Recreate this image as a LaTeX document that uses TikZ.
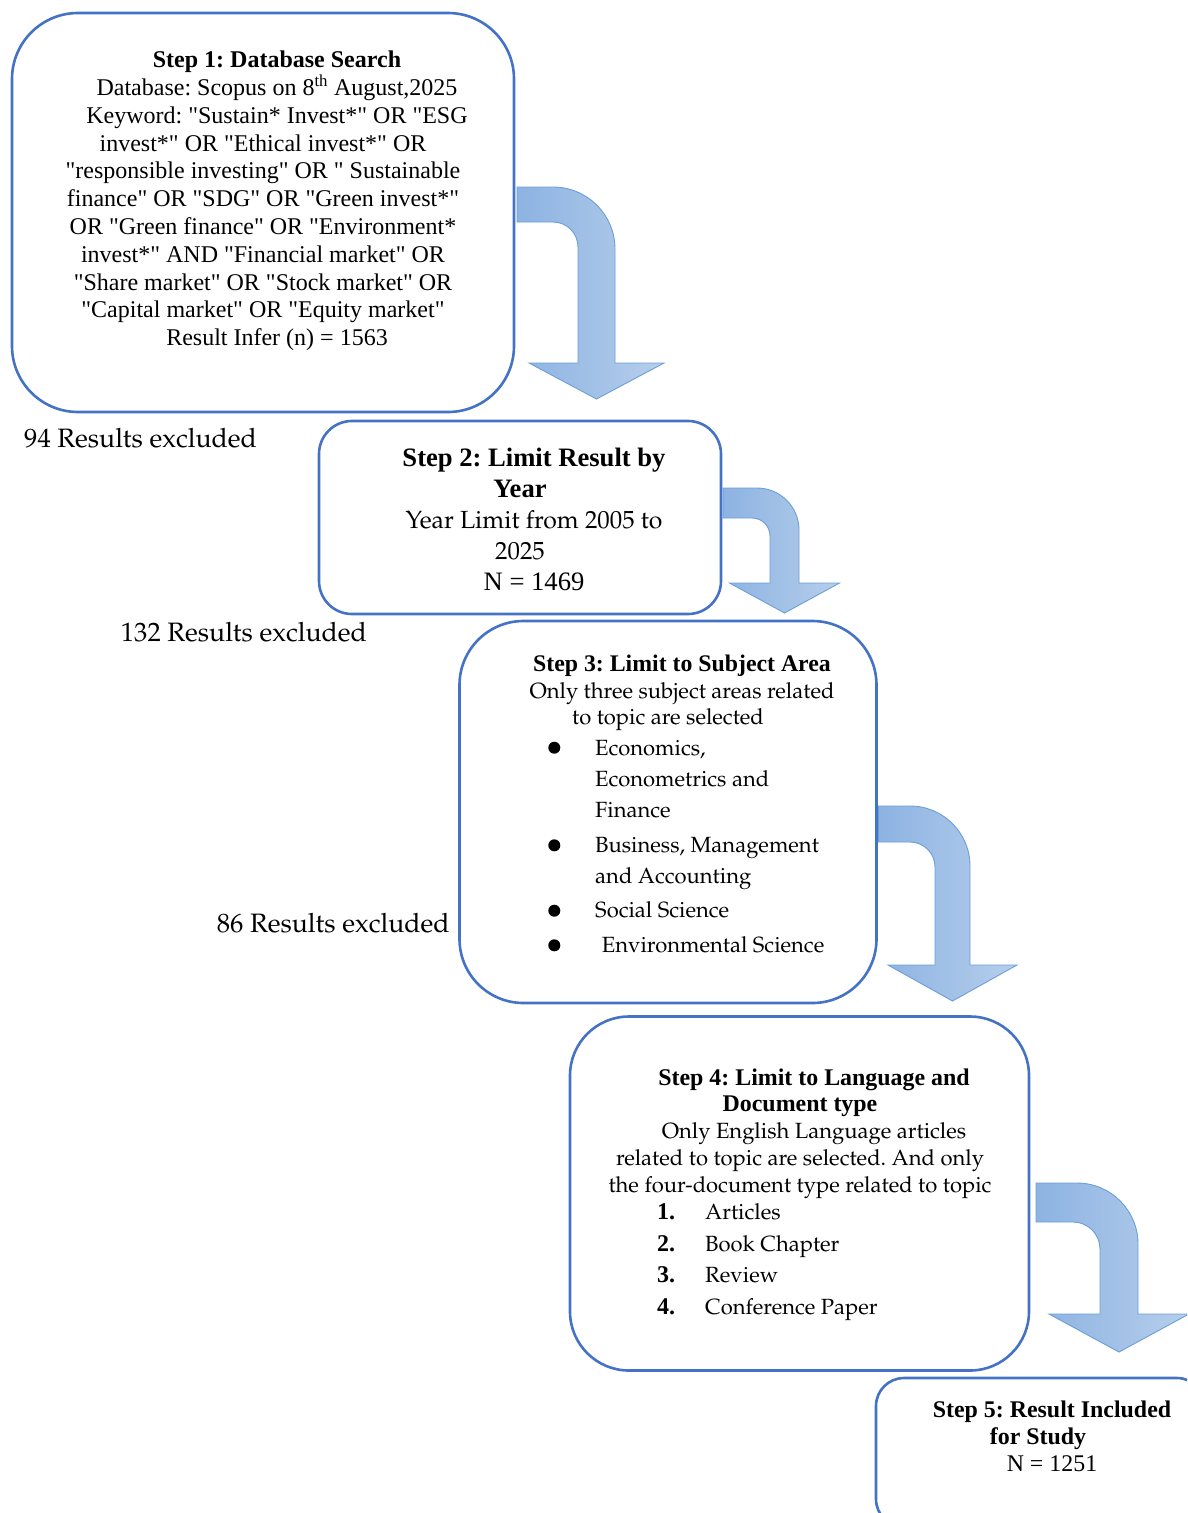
\documentclass[tikz,border=0pt]{standalone}
\usepackage[T1]{fontenc}
\usepackage{fontspec}
\setmainfont{Liberation Serif}[Ligatures=TeXOff]
% Palatino-like body face (URW Palladio through the T1 encoding)
\newcommand\pal[2]{\fontencoding{T1}\fontfamily{ppl}\fontsize{#1}{#2}\selectfont}
\frenchspacing

\definecolor{boxblue}{HTML}{4472C4}
\definecolor{arrL}{HTML}{8DB3E2}
\definecolor{arrR}{HTML}{B6CEEB}
\definecolor{arrEdge}{HTML}{6A9FD8}

\begin{document}
\begin{tikzpicture}[x=1pt,y=-1pt,
  stepbox/.style={draw=boxblue, line width=2.6pt, inner sep=0pt},
  bent/.style={left color=arrL, right color=arrR, draw=arrEdge, line width=0.9pt, line join=miter},
  para/.style={inner sep=0pt, anchor=north, align=center},
  item/.style={inner sep=0pt, anchor=base west, font=\pal{22}{26}},
  lbl/.style={inner sep=0pt, anchor=base west, font=\pal{26.6}{30}},
  dot/.style={circle, fill=black, inner sep=0pt, minimum size=12pt}]

\useasboundingbox (0,0) rectangle (1187,1513);
\clip (0,0) rectangle (1187,1513);

% bent block arrows between the steps
\foreach \xa/\yt/\yb/\xi/\xo/\ro/\ri/\yh/\hh/\yp [count=\n] in {
  517/187/222/578/615/62/25/363/67.5/399,
  723/488/518/770/799/42/18/583/55/613,
  878.5/806/842/935/970/60/25/965/64.5/1001,
  1036/1183/1222/1100/1138/61/27/1314/70/1352}
{
  \path[bent] (\xa,\yt) -- (\xo-\ro,\yt)
    .. controls ({\xo-0.4477*\ro},\yt) and (\xo,{\yt+0.4477*\ro}) .. (\xo,\yt+\ro)
    -- (\xo,\yh) -- ({(\xi+\xo)/2+\hh},\yh) -- ({(\xi+\xo)/2},\yp)
    -- ({(\xi+\xo)/2-\hh},\yh) -- (\xi,\yh) -- (\xi,\yb+\ri)
    .. controls (\xi,{\yb+0.4477*\ri}) and ({\xi-0.4477*\ri},\yb) .. (\xi-\ri,\yb)
    -- (\xa,\yb) -- cycle;
}

% step frames
\node[stepbox, rounded corners=66pt, minimum width=502pt, minimum height=399pt] (box1) at (263,212.5) {};
\node[stepbox, rounded corners=33pt, minimum width=402pt, minimum height=193pt] (box2) at (520,517.5) {};
\node[stepbox, rounded corners=64pt, minimum width=417pt, minimum height=382pt] (box3) at (668,812) {};
\node[stepbox, rounded corners=59pt, minimum width=459pt, minimum height=354pt] (box4) at (799.5,1193.5) {};
\node[stepbox, rounded corners=28pt, minimum width=329pt, minimum height=149pt] (box5) at (1040.5,1452.5) {};

% step 1
\node[para, font=\fontsize{24}{27.8}\selectfont] (s1text) at (263,45.5)
 {\hspace*{28pt}\rule{0pt}{22pt}\textbf{Step 1: Database Search}\\
  \hspace*{28pt}Database: Scopus on 8\textsuperscript{th} August,2025\\
  \hspace*{28pt}Keyword: "Sustain* Invest*" OR "ESG\\
  invest*" OR "Ethical invest*" OR\\
  "responsible investing" OR " Sustainable\\
  finance" OR "SDG" OR "Green invest*"\\
  OR "Green finance" OR "Environment*\\
  invest*" AND "Financial market" OR\\
  "Share market" OR "Stock market" OR\\
  "Capital market" OR "Equity market"\\
  \hspace*{28pt}Result Infer (n) = 1563};

% step 2
\node[para, font=\fontsize{26.6}{30.8}\selectfont] (s2text) at (520,444.7)
 {\hspace*{28pt}\rule{0pt}{22pt}\textbf{Step 2: Limit Result by}\\
  \textbf{Year}\\
  \hspace*{28pt}{\pal{24.8}{30.8}Year Limit from 2005 to}\\
  {\pal{24.8}{30.8}2025}\\
  \hspace*{28pt}N = 1469};

% step 3
\node[para, font=\fontsize{23.8}{26.3}\selectfont] (s3text) at (668,649.7)
 {\hspace*{28pt}\rule{0pt}{22pt}\textbf{Step 3: Limit to Subject Area}\\
  \hspace*{28pt}{\pal{22}{26.3}Only three subject areas related}\\
  {\pal{22}{26.3}to topic are selected}};
\foreach \yy [count=\k] in {747.7, 845.3, 910.7, 945.3}
  \node[dot] (s3dot\k) at (554.3,\yy) {};
\foreach \yy/\xx/\txt [count=\k] in {755/595/{Economics,}, 786.7/595/{Econometrics and},
    817.7/595/Finance, 852.3/595/{Business, Management}, 883.3/595/{and Accounting},
    917.7/595/{Social Science}, 952.3/601.7/{Environmental Science}}
  \node[item] (s3item\k) at (\xx,\yy) {\txt};

% step 4
\node[para, font=\fontsize{23.9}{26.7}\selectfont] (s4text) at (800,1063)
 {\hspace*{28pt}\rule{0pt}{22pt}\textbf{Step 4: Limit to Language and}\\
  \textbf{Document type}\\
  \hspace*{28pt}{\pal{22}{26.7}Only English Language articles}\\
  {\pal{22}{26.7}related to topic are selected. And only}\\
  {\pal{22}{26.7}the four-document type related to topic}};
\foreach \yy/\num/\txt [count=\k] in {1219.5/1./Articles, 1251/2./{Book Chapter},
    1282.5/3./Review, 1314/4./{Conference Paper}}
{
  \node[inner sep=0pt, anchor=base west, font=\fontsize{24}{26}\selectfont\bfseries] (s4num\k) at (657,\yy) {\num};
  \node[item] (s4item\k) at (705,\yy) {\txt};
}

% step 5
\node[para, font=\fontsize{23.9}{26.7}\selectfont] (s5text) at (1038,1395.7)
 {\hspace*{28pt}\rule{0pt}{22pt}\textbf{Step 5: Result Included}\\
  \textbf{for Study}\\
  \hspace*{28pt}N = 1251};

% exclusion counts
\node[lbl] (ex1) at (24,447) {94 Results excluded};
\node[lbl] (ex2) at (120.7,641.7) {132 Results excluded};
\node[lbl] (ex3) at (216.7,932.3) {86 Results excluded};

\end{tikzpicture}
\end{document}
